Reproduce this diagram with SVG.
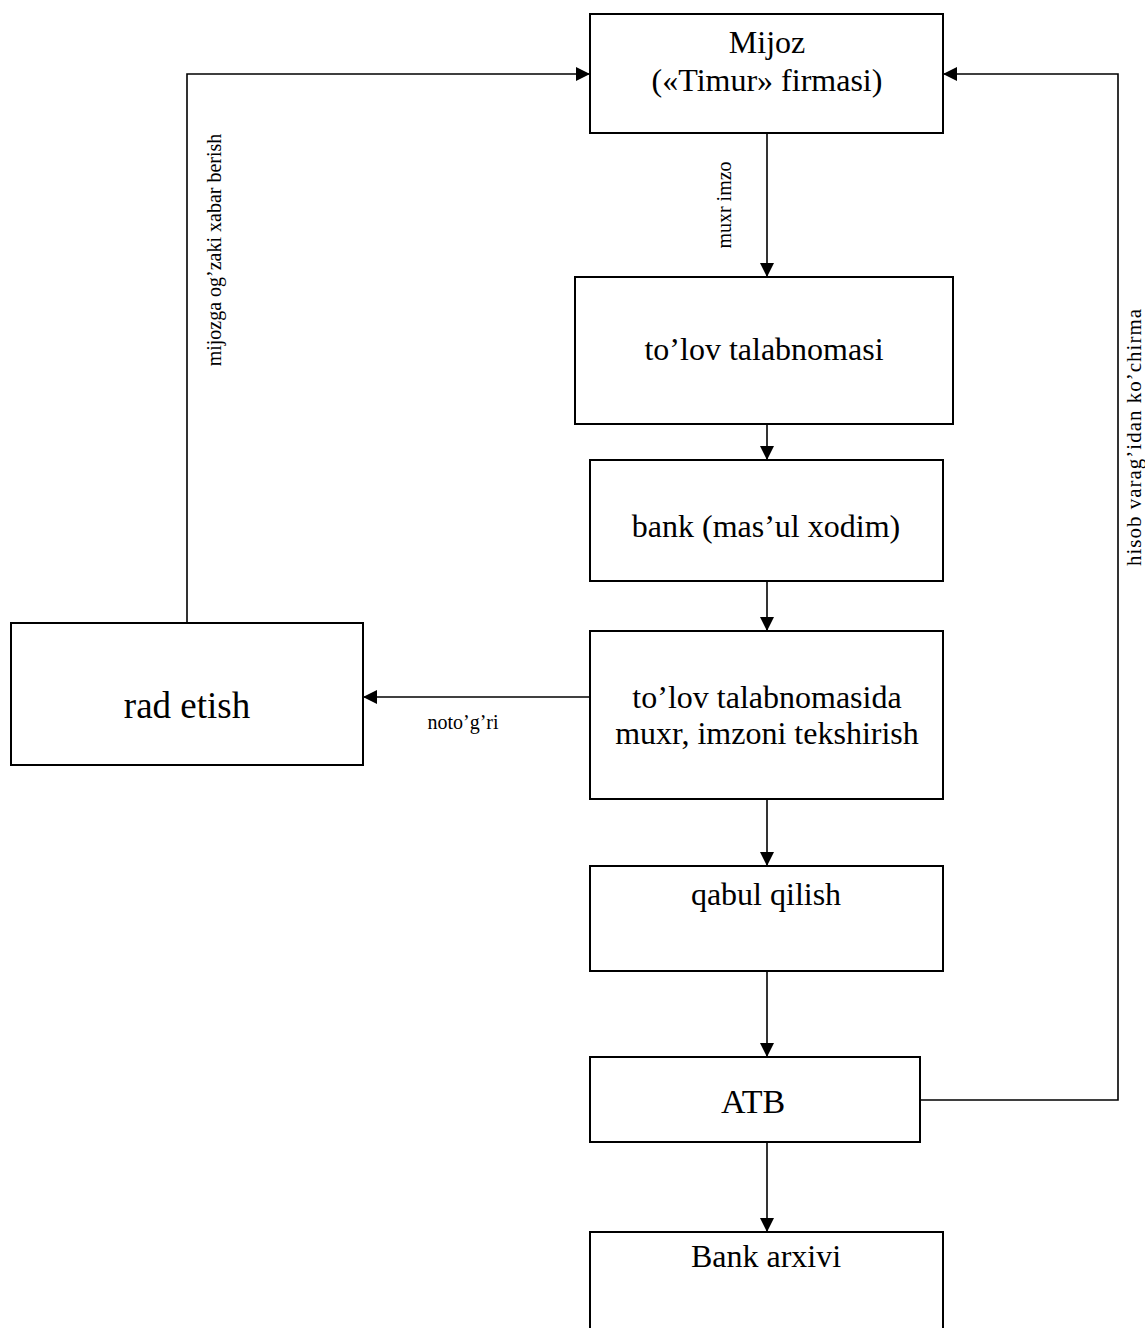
<svg xmlns="http://www.w3.org/2000/svg" width="1145" height="1328" viewBox="0 0 1145 1328">
<style>
.box{fill:#fff;stroke:#000;stroke-width:2}
.t{font-family:"Liberation Serif","Times New Roman",serif;fill:#000;text-anchor:middle}
.n{font-size:32px}
.s{font-size:20px}
.c{fill:none;stroke:#000;stroke-width:1.6}
</style>
<defs>
<marker id="ah" viewBox="0 0 14 14" refX="14" refY="7" markerWidth="14" markerHeight="14" orient="auto" markerUnits="userSpaceOnUse">
<path d="M0,0 L14,7 L0,14 z" fill="#000"/>
</marker>
</defs>
<rect width="1145" height="1328" fill="#fff"/>
<g id="connectors">
<path class="c" d="M767,133 V277" marker-end="url(#ah)"/>
<path class="c" d="M767,424 V460" marker-end="url(#ah)"/>
<path class="c" d="M767,581 V631" marker-end="url(#ah)"/>
<path class="c" d="M590,697 H363" marker-end="url(#ah)"/>
<path class="c" d="M767,799 V866" marker-end="url(#ah)"/>
<path class="c" d="M767,971 V1057" marker-end="url(#ah)"/>
<path class="c" d="M767,1142 V1232" marker-end="url(#ah)"/>
<path class="c" d="M187,623 V74 H590" marker-end="url(#ah)"/>
<path class="c" d="M920,1100 H1118 V74 H943" marker-end="url(#ah)"/>
<text class="t s" transform="translate(731,205) rotate(-90)">muxr imzo</text>
<text class="t s" transform="translate(221,250) rotate(-90)">mijozga og’zaki xabar berish</text>
<text class="t" style="font-size:21px;letter-spacing:1px" transform="translate(1141,437) rotate(-90)">hisob varag’idan ko’chirma</text>
<text class="t s" x="463" y="729">noto’g’ri</text>
</g>
<g id="mijoz">
<rect class="box" x="590" y="14" width="353" height="119"/>
<text class="t n" x="767" y="53">Mijoz</text>
<text class="t n" x="767" y="91">(«Timur» firmasi)</text>
</g>
<g id="tolov">
<rect class="box" x="575" y="277" width="378" height="147"/>
<text class="t n" x="764" y="360">to’lov talabnomasi</text>
</g>
<g id="bank">
<rect class="box" x="590" y="460" width="353" height="121"/>
<text class="t n" x="766" y="537">bank (mas’ul xodim)</text>
</g>
<g id="check">
<rect class="box" x="590" y="631" width="353" height="168"/>
<text class="t n" x="767" y="708">to’lov talabnomasida</text>
<text class="t n" x="767" y="744">muxr, imzoni tekshirish</text>
</g>
<g id="rad">
<rect class="box" x="11" y="623" width="352" height="142"/>
<text class="t" style="font-size:37px" x="187" y="718">rad etish</text>
</g>
<g id="qabul">
<rect class="box" x="590" y="866" width="353" height="105"/>
<text class="t n" x="766" y="905">qabul qilish</text>
</g>
<g id="atb">
<rect class="box" x="590" y="1057" width="330" height="85"/>
<text class="t" style="font-size:34px" x="753" y="1113">ATB</text>
</g>
<g id="arxiv">
<rect class="box" x="590" y="1232" width="353" height="110"/>
<text class="t n" x="766" y="1267">Bank arxivi</text>
</g>
</svg>
